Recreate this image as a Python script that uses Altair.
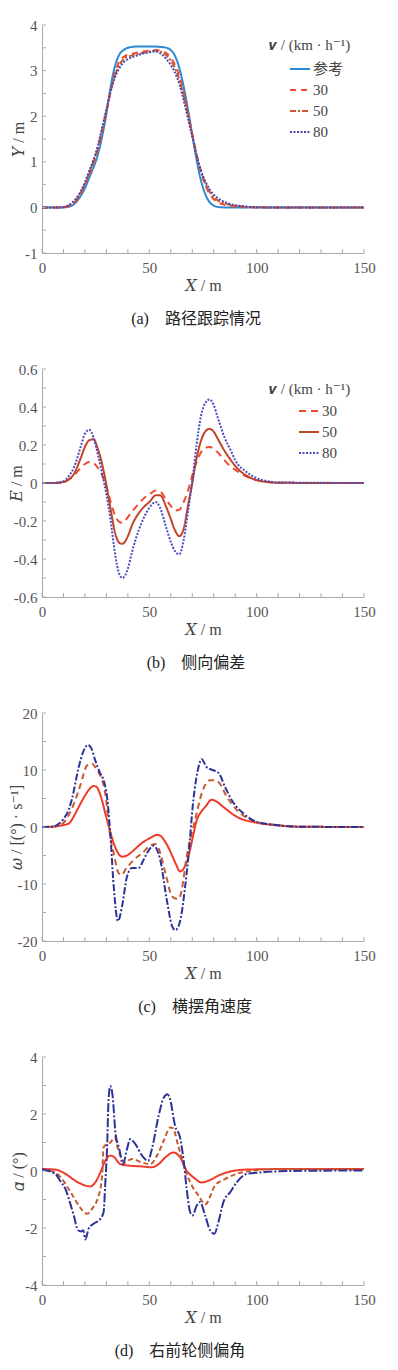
import altair as alt
import pandas as pd

SERIF = "'Liberation Serif', 'DejaVu Serif', 'Noto Sans CJK SC', serif"
W, H = 322, 228
XTICKS = list(range(0, 151, 10))
XLABELS = [0, 50, 100, 150]

# ---------------- (a) path tracking ----------------
A_SERIES = ["参考", "30", "50", "80"]
A_REF_X = [0, 10, 12, 14, 16, 18, 20, 22, 24, 26, 28, 30, 32, 34, 36, 38, 40, 45, 50, 55, 58, 60, 62, 64, 66, 68, 70, 72, 74, 76, 78, 80, 82, 85, 100, 150]
A_REF_Y = [0, 0, 0.01, 0.04, 0.12, 0.25, 0.42, 0.65, 0.88, 1.15, 1.55, 2.05, 2.65, 3.1, 3.35, 3.45, 3.5, 3.53, 3.53, 3.52, 3.5, 3.45, 3.32, 3.05, 2.65, 2.15, 1.6, 1.05, 0.6, 0.3, 0.12, 0.04, 0.01, 0, 0, 0]
A_X = [0, 8, 10, 12, 14, 16, 18, 20, 22, 24, 26, 28, 30, 32, 34, 36, 38, 40, 43, 46, 50, 53, 55, 58, 60, 62, 64, 66, 68, 70, 72, 74, 76, 78, 80, 82, 85, 88, 90, 95, 100, 105, 150]
A_30 = [0, 0, 0.005, 0.02, 0.06, 0.15, 0.3, 0.5, 0.72, 0.97, 1.27, 1.65, 2.1, 2.55, 2.95, 3.2, 3.3, 3.35, 3.38, 3.41, 3.44, 3.45, 3.44, 3.38, 3.28, 3.12, 2.88, 2.52, 2.08, 1.6, 1.15, 0.78, 0.5, 0.3, 0.18, 0.11, 0.06, 0.03, 0.02, 0.005, 0, 0, 0]
A_50 = [0, 0, 0.005, 0.03, 0.08, 0.17, 0.32, 0.52, 0.76, 1.0, 1.3, 1.7, 2.12, 2.55, 2.9, 3.12, 3.25, 3.3, 3.35, 3.38, 3.42, 3.44, 3.42, 3.33, 3.22, 3.05, 2.8, 2.45, 2.03, 1.6, 1.17, 0.8, 0.53, 0.35, 0.23, 0.15, 0.09, 0.05, 0.035, 0.012, 0.003, 0, 0]
A_80 = [0, 0, 0.01, 0.04, 0.1, 0.2, 0.35, 0.55, 0.8, 1.05, 1.35, 1.75, 2.15, 2.55, 2.85, 3.05, 3.18, 3.25, 3.31, 3.36, 3.4, 3.42, 3.38, 3.25, 3.12, 2.95, 2.7, 2.35, 1.95, 1.55, 1.15, 0.82, 0.58, 0.4, 0.28, 0.2, 0.12, 0.07, 0.05, 0.02, 0.005, 0, 0]
A_YLABELS = [-1, 0, 1, 2, 3, 4]
A_YTICKS = [-1, -0.5, 0, 0.5, 1, 1.5, 2, 2.5, 3, 3.5, 4]

# ---------------- (b) lateral error ----------------
B_SERIES = ["30", "50", "80"]
B_X = [0, 5, 10, 12, 15, 18, 20, 22, 24, 26, 28, 30, 32, 34, 36, 37.5, 40, 42, 45, 48, 50, 53, 55, 58, 60, 62, 64, 66, 68, 70, 72, 74, 76, 78, 80, 82, 85, 88, 90, 95, 100, 105, 110, 150]
B_30 = [0, 0, 0.005, 0.015, 0.04, 0.08, 0.1, 0.11, 0.105, 0.08, 0.04, -0.02, -0.1, -0.17, -0.205, -0.21, -0.18, -0.15, -0.11, -0.075, -0.06, -0.04, -0.045, -0.09, -0.12, -0.145, -0.14, -0.1, -0.04, 0.04, 0.11, 0.16, 0.185, 0.19, 0.18, 0.16, 0.12, 0.085, 0.07, 0.035, 0.015, 0.005, 0.001, 0]
B_50 = [0, 0, 0.005, 0.015, 0.05, 0.13, 0.19, 0.225, 0.23, 0.18, 0.1, -0.01, -0.14, -0.26, -0.315, -0.32, -0.28, -0.22, -0.16, -0.12, -0.1, -0.065, -0.065, -0.13, -0.19, -0.25, -0.28, -0.24, -0.12, 0.0, 0.13, 0.22, 0.27, 0.285, 0.27, 0.23, 0.17, 0.12, 0.09, 0.04, 0.015, 0.005, 0.001, 0]
B_80 = [0, 0, 0.01, 0.03, 0.085, 0.19, 0.26, 0.28, 0.24, 0.15, 0.05, -0.06, -0.2, -0.37, -0.48, -0.5, -0.45, -0.36, -0.25, -0.17, -0.13, -0.1, -0.13, -0.24, -0.31, -0.36, -0.375, -0.3, -0.15, 0.01, 0.2, 0.35, 0.42, 0.44, 0.41, 0.34, 0.24, 0.17, 0.12, 0.06, 0.025, 0.01, 0.003, 0]
B_YLABELS = [-0.6, -0.4, -0.2, 0, 0.2, 0.4, 0.6]
B_YTICKS = [-0.6, -0.5, -0.4, -0.3, -0.2, -0.1, 0, 0.1, 0.2, 0.3, 0.4, 0.5, 0.6]

# ---------------- (c) yaw rate ----------------
C_30_X = [0, 5, 8, 12.4, 15, 17.1, 20, 22, 24.1, 25.5, 27.2, 30.3, 33.4, 35.5, 37.3, 39, 41.1, 43.5, 46.6, 50, 53.6, 55, 56.7, 58.9, 60.6, 62.5, 64.3, 66, 68.2, 70, 72.1, 74, 76, 79.1, 81.5, 84.5, 90.7, 100, 109, 120, 150]
C_30_Y = [0, 0.05, 0.2, 0.6, 2.0, 3.5, 5.5, 6.6, 7.2, 7.0, 5.6, 1.2, -2.8, -4.6, -5.2, -5.1, -4.6, -3.8, -2.8, -2.0, -1.4, -1.5, -2.2, -3.6, -5.0, -6.6, -7.8, -7.3, -5.2, -2.2, 1.2, 2.6, 3.5, 4.8, 4.4, 3.5, 1.8, 0.75, 0.3, 0.05, 0]
C_50_X = [0, 5, 9.3, 12, 15.5, 18, 21, 23.3, 24.8, 26.5, 28.7, 30, 31, 32.2, 33.4, 35.7, 37.2, 38.8, 42.7, 46.6, 51.2, 53, 54.3, 57.5, 60.6, 62.8, 64, 65.1, 67.4, 69.5, 71.3, 74.4, 78.3, 80, 82.2, 86.1, 91.5, 100, 109, 120, 150]
C_50_Y = [0, 0.05, 0.5, 1.8, 4.7, 7.5, 10.8, 11.1, 10.5, 9.5, 7.3, 4.5, 0.6, -2.5, -4.6, -8.1, -8.4, -7.5, -5.8, -4.6, -3.1, -3.0, -3.7, -8.1, -12.2, -12.6, -12.5, -11, -5.2, -1.5, 1.2, 5.9, 8.2, 8.2, 7.9, 5.3, 2.7, 0.9, 0.35, 0.05, 0]
C_80_X = [0, 5, 8, 10, 12.4, 14, 17.1, 19, 21.4, 23, 24.8, 27, 28.7, 30.3, 31.8, 33.4, 35.4, 37.3, 39.6, 41.9, 45, 47, 48.9, 52, 55.1, 58.1, 60.6, 62, 63.5, 65.1, 66.5, 68.2, 70.5, 72.9, 74.4, 76.7, 79.5, 82.2, 85.3, 88.4, 93.8, 100, 109, 120, 150]
C_80_Y = [0, 0.05, 0.6, 1.4, 3.0, 5.0, 10.5, 13.0, 14.4, 13.8, 11.7, 9.5, 8.2, 5.3, -1.1, -10.4, -16.5, -13.9, -8.7, -7.2, -7.2, -6.0, -4.6, -3.3, -5.8, -12.7, -17.4, -18.1, -17.5, -15, -11, -5.2, 4.7, 10.5, 11.9, 10.5, 10.0, 9.5, 7.0, 4.7, 2.4, 0.9, 0.35, 0.05, 0]
C_YLABELS = [-20, -10, 0, 10, 20]
C_YTICKS = [-20, -15, -10, -5, 0, 5, 10, 15, 20]

# ---------------- (d) front-right tyre slip angle ----------------
D_30_X = [0, 6.2, 10.9, 15.5, 20.2, 22.5, 24.8, 27.2, 29.5, 31.8, 33.4, 36.5, 40.4, 46.6, 51.2, 54.3, 57.5, 61.2, 64.3, 67.4, 70.5, 74.4, 77.5, 82.2, 87.6, 95.4, 115.6, 150]
D_30_Y = [0.07, 0.05, -0.1, -0.34, -0.51, -0.54, -0.4, -0.05, 0.36, 0.54, 0.5, 0.24, 0.19, 0.16, 0.13, 0.24, 0.48, 0.65, 0.48, 0.01, -0.22, -0.4, -0.34, -0.16, -0.02, 0.05, 0.07, 0.07]
D_50_X = [0, 6.2, 9, 12.4, 15, 17.1, 19, 21, 23.3, 26.4, 27.5, 28, 28.7, 30.3, 31.8, 33.9, 35.4, 36.5, 38.5, 41.9, 46.6, 50.5, 53.6, 56.7, 59.8, 61, 63.5, 66.6, 69.8, 72.9, 76, 80.6, 85.3, 90.7, 97, 109, 150]
D_50_Y = [0.04, -0.05, -0.25, -0.63, -0.95, -1.21, -1.4, -1.5, -1.33, -0.86, -0.5, -0.16, 0.83, 0.94, 1.0, 1.18, 0.77, 0.54, 0.3, 0.42, 0.3, 0.24, 0.54, 1.06, 1.53, 1.5, 0.88, 0.07, -0.51, -0.86, -1.17, -0.51, -0.28, -0.1, 0.0, 0.07, 0.05]
D_80_X = [0, 6.2, 8.5, 10.9, 13, 14.8, 16.8, 18.3, 19.2, 20.2, 21.7, 24, 27.2, 28.7, 29.5, 30.3, 31, 31.8, 32.9, 34.2, 36, 37.7, 39.6, 41.1, 43.5, 46.6, 49.4, 51.2, 54.3, 56.7, 58.4, 59.7, 62, 64.3, 65.9, 67.4, 69, 70.1, 72.1, 73.6, 76, 78.3, 80.3, 82.2, 84.5, 87.6, 90.7, 95.4, 101.6, 115.6, 150]
D_80_Y = [0.05, -0.1, -0.35, -0.63, -1.1, -1.56, -2.08, -2.12, -2.08, -2.4, -2.03, -1.85, -1.68, -1.44, -0.4, 0.77, 2.5, 2.98, 2.63, 1.35, 0.77, 0.24, 0.77, 1.12, 0.94, 0.54, 0.36, 0.77, 1.93, 2.57, 2.69, 2.51, 1.58, 1.18, 0.42, -0.63, -1.44, -1.56, -1.21, -1.09, -1.56, -2.08, -2.2, -1.79, -1.09, -0.75, -0.4, -0.1, -0.05, 0, 0.02]
D_YLABELS = [-4, -2, 0, 2, 4]
D_YTICKS = [-4, -3, -2, -1, 0, 1, 2, 3, 4]
CD_SERIES = ["30", "50", "80"]


def long_df(items):
    rows = []
    for name, xs, ys in items:
        for xv, yv in zip(xs, ys):
            rows.append({"x": xv, "y": yv, "s": name})
    return pd.DataFrame(rows)


def panel(df, domain, colors, dashes, ydom, ylabels, yticks, ytitle, title_x,
          caption, cap_x, legend=None):
    leg = None
    if legend is not None:
        leg = alt.Legend(
            title="𝒗 / (km · h⁻¹)", orient="none",
            legendX=legend["x"], legendY=legend["y"],
            symbolType="stroke", symbolSize=400, symbolStrokeWidth=2,
            symbolOffset=legend["off"], labelOffset=2,
            labelFont=SERIF, labelFontSize=15, labelColor="#444",
            titleFont=SERIF, titleFontSize=15, titleFontWeight="normal",
            titleColor="#444", titlePadding=legend["tp"], rowPadding=2,
            padding=0,
        )
    xscale = alt.Scale(domain=[0, 150], nice=False)
    yscale = alt.Scale(domain=ydom, nice=False, zero=False)
    xaxis = alt.Axis(
        values=XLABELS, title="𝑋 / m", ticks=False, grid=False,
        labelFlush=False, labelFont=SERIF, labelFontSize=15,
        labelColor="#555", labelPadding=7, titleFont=SERIF,
        titleFontSize=16, titleFontWeight="normal", titleColor="#444",
        titlePadding=2, domainColor="#aaa")
    yaxis = alt.Axis(
        values=ylabels, title=ytitle, ticks=False, grid=False,
        labelFlush=False, labelExpr="toString(datum.value)",
        labelFont=SERIF, labelFontSize=15, labelColor="#555",
        labelPadding=5, titleFont=SERIF, titleFontSize=16,
        titleFontWeight="normal", titleColor="#444", titleX=title_x,
        domainColor="#aaa")
    lines = alt.Chart(df).mark_line(interpolate="monotone", strokeWidth=2).encode(
        x=alt.X("x:Q", scale=xscale, axis=xaxis),
        y=alt.Y("y:Q", scale=yscale, axis=yaxis),
        color=alt.Color("s:N", scale=alt.Scale(domain=domain, range=colors),
                        sort=domain, legend=leg),
        strokeDash=alt.StrokeDash("s:N", scale=alt.Scale(domain=domain, range=dashes),
                                  sort=domain, legend=leg),
    )
    xt = alt.Chart(pd.DataFrame({"x": XTICKS})).mark_rule(color="#aaa").encode(
        x=alt.X("x:Q", scale=xscale, axis=xaxis),
        y=alt.value(H), y2=alt.value(H - 4))
    yt = alt.Chart(pd.DataFrame({"y": yticks})).mark_rule(color="#aaa").encode(
        y=alt.Y("y:Q", scale=yscale, axis=yaxis),
        x=alt.value(0), x2=alt.value(4))
    cap = alt.Chart(pd.DataFrame({"c": [caption]})).mark_text(
        font=SERIF, fontSize=16, color="#222", align="center", baseline="middle"
    ).encode(text="c:N", x=alt.value(cap_x), y=alt.value(H + 66))
    return alt.layer(lines, xt, yt, cap).properties(width=W, height=H)


pa = panel(
    long_df([("参考", A_REF_X, A_REF_Y), ("30", A_X, A_30), ("50", A_X, A_50), ("80", A_X, A_80)]),
    A_SERIES, ["#2a8ad6", "#f04a30", "#c8582e", "#4a48b4"],
    [[1, 0], [6, 5], [6, 2, 2, 2], [2, 1.5]],
    [-1, 4], A_YLABELS, A_YTICKS, "𝑌 / m", -16, "(a)\u2003路径跟踪情况", 154,
    legend={"x": 227, "y": 13, "off": 20, "tp": 5})

pb = panel(
    long_df([("30", B_X, B_30), ("50", B_X, B_50), ("80", B_X, B_80)]),
    B_SERIES, ["#f04a30", "#c0442a", "#4a4cc0"],
    [[7, 5], [1, 0], [2, 1.5]],
    [-0.6, 0.6], B_YLABELS, B_YTICKS, "𝐸 / m", -18, "(b)\u2003侧向偏差", 154,
    legend={"x": 227, "y": 13, "off": 29, "tp": 3})

pc = panel(
    long_df([("30", C_30_X, C_30_Y), ("50", C_50_X, C_50_Y), ("80", C_80_X, C_80_Y)]),
    CD_SERIES, ["#f03a2a", "#c85a30", "#2c3398"],
    [[1, 0], [6, 4], [7, 2, 2, 2]],
    [-20, 20], C_YLABELS, C_YTICKS, "𝜔 / [(°) · s⁻¹]", -18, "(c)\u2003横摆角速度", 153)

pd_ = panel(
    long_df([("30", D_30_X, D_30_Y), ("50", D_50_X, D_50_Y), ("80", D_80_X, D_80_Y)]),
    CD_SERIES, ["#f03a2a", "#c85a30", "#2c3398"],
    [[1, 0], [5, 3], [9, 2, 2, 2]],
    [-4, 4], D_YLABELS, D_YTICKS, "𝛼 / (°)", -16, "(d)\u2003右前轮侧偏角", 138)

chart = alt.vconcat(pa, pb, pc, pd_, spacing=116, bounds="flush").resolve_scale(
    color="independent", strokeDash="independent", x="independent", y="independent"
).resolve_legend(color="independent", strokeDash="independent").configure_view(
    strokeWidth=0
).properties(padding={"left": 0, "top": 10, "right": 5, "bottom": 5})

chart.save("out.html", embed_options={"renderer": "svg", "actions": False})
